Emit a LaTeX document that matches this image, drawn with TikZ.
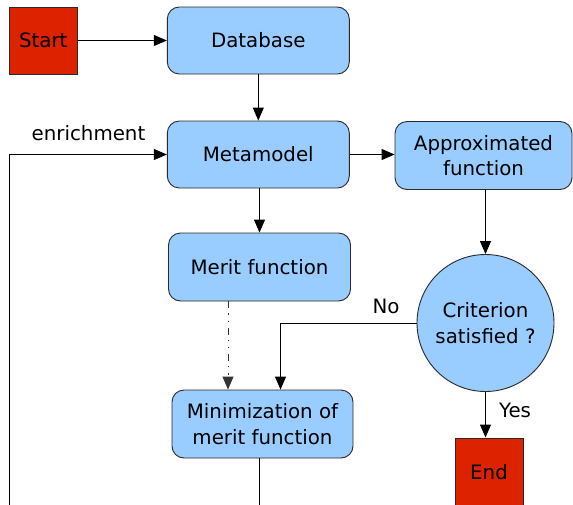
\documentclass[tikz,border=0pt]{standalone}
\usepackage{fontspec}
\setmainfont{DejaVu Sans}
\usetikzlibrary{arrows.meta,shapes.geometric}
\definecolor{boxblue}{HTML}{99CCFF}
\definecolor{boxred}{HTML}{DD2200}
\definecolor{edge}{HTML}{2A2A2A}
\tikzset{
  every node/.style={font=\fontsize{19.8}{25.5}\selectfont, text=black},
  blockbox/.style={draw=edge, fill=boxblue, line width=0.9pt, rounded corners=12pt,
    minimum width=182pt, minimum height=67pt, inner sep=0pt, align=center},
  termbox/.style={draw=edge, fill=boxred, line width=1pt,
    minimum width=68pt, minimum height=67pt, inner sep=0pt, align=center},
  decisioncircle/.style={draw=edge, fill=boxblue, line width=0.9pt, circle,
    minimum size=137pt, inner sep=0pt, align=center},
  conn/.style={line width=1pt, draw=black, -{Triangle[length=13pt,width=11pt]}},
  dashdotconn/.style={line width=0.9pt, draw=black!80,
    dash pattern=on 7pt off 5pt on 1.2pt off 6pt on 1.2pt off 6pt,
    -{Triangle[length=13pt,width=11pt]}},
  lbl/.style={inner sep=0pt}
}
\begin{document}
\begin{tikzpicture}[x=1pt,y=-1pt]
\useasboundingbox (0,0) rectangle (573,504);
\node[termbox] (start) at (43.3,40.5) {Start};
\node[blockbox] (db) at (258.3,40.5) {Database};
\node[blockbox] (meta) at (258.3,154.5) {Metamodel};
\node[blockbox, minimum width=177pt, minimum height=68pt] (approx) at (483.5,155.5) {Approximated\\function};
\node[blockbox, minimum height=68pt] (merit) at (259.5,267) {Merit function};
\node[decisioncircle] (crit) at (485.5,323) {Criterion\\satisfied ?};
\node[blockbox, minimum width=181pt, minimum height=68pt] (mini) at (262.5,424) {Minimization of\\merit function};
\node[termbox, minimum height=68pt] (end) at (489,472) {End};

\node[lbl] (enr) at (88.5,133) {enrichment};
\node[lbl] (no) at (386,306) {No};
\node[lbl] (yes) at (515,410) {Yes};

\coordinate (loopL) at (9,540);
\coordinate (ddX) at (228,0);
\coordinate (noX) at (280.5,0);

\draw[conn] (start.east) -- (db.west);
\draw[conn] (db.south) -- (meta.north);
\draw[conn] (meta.east) -- (meta.east -| approx.west);
\draw[conn] (meta.south -| merit.south) -- (merit.north);
\draw[conn] (crit.north |- approx.south) -- (crit.north);
\draw[conn] (crit.west) -| (mini.north -| noX);
\draw[conn] (crit.south) -- (crit.south |- end.north);
\draw[dashdotconn] (merit.south -| ddX) -- (mini.north -| ddX);
\draw[conn] (mini.south -| merit.south) |- (loopL) |- (meta.west);
\end{tikzpicture}
\end{document}
